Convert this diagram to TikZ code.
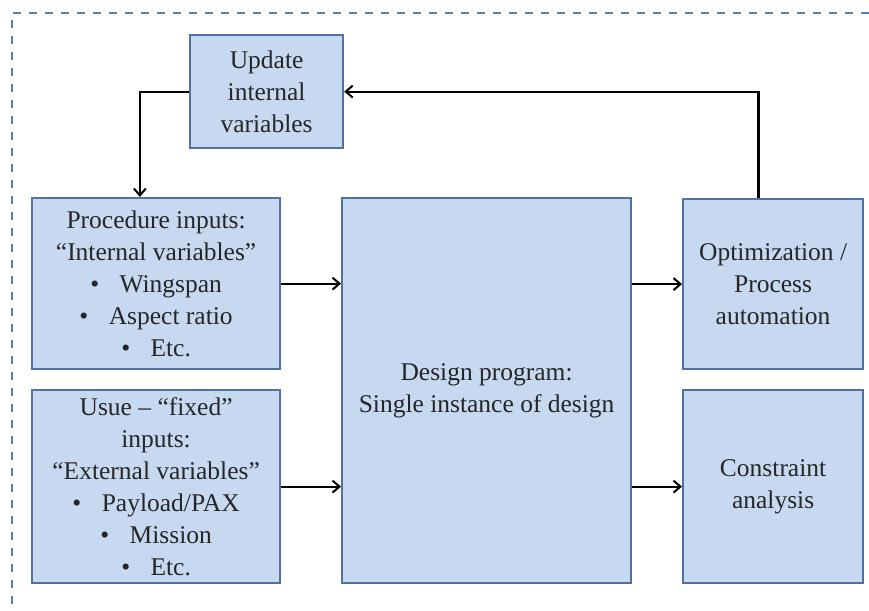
\documentclass[tikz,border=0pt]{standalone}
\usepackage{fontspec}
\setmainfont{Liberation Serif}
\usetikzlibrary{arrows.meta,calc}
\definecolor{boxfill}{HTML}{C6D9F1}
\definecolor{boxline}{HTML}{4F72A3}
\definecolor{dashcol}{HTML}{5B7CA8}
\begin{document}
\begin{tikzpicture}[x=1pt,y=-1pt,
  box/.style={draw=boxline, fill=boxfill, line width=2.2pt, inner sep=0pt, align=center,
    anchor=north west, font=\rmfamily\fontsize{25.5}{32}\selectfont, text=black!85},
  arr/.style={draw=black, line width=2.2pt, -{Straight Barb[length=7pt,width=12pt,line width=2pt]}}]
\path[use as bounding box] (0,0) rectangle (869,610);
\clip (0,0) rectangle (869,610);
\draw[dashcol, line width=2.2pt, dash pattern=on 8pt off 8pt] (12,620) -- (12,13) -- (880,13);
\node[box, minimum width=153pt, minimum height=113pt] (up) at (189,34) {Update\\internal\\variables};
\node[box, minimum width=248pt, minimum height=171pt] (proc) at (31,197)
  {Procedure inputs:\\``Internal variables''\\\textbullet\hspace{0.8em}Wingspan\\\textbullet\hspace{0.8em}Aspect ratio\\\textbullet\hspace{0.8em}Etc.};
\node[box, minimum width=248pt, minimum height=193pt] (usue) at (31,389)
  {Usue -- ``fixed''\\inputs:\\``External variables''\\\textbullet\hspace{0.8em}Payload/PAX\\\textbullet\hspace{0.8em}Mission\\\textbullet\hspace{0.8em}Etc.};
\node[box, minimum width=289pt, minimum height=385pt] (design) at (341,197)
  {Design program:\\Single instance of design};
\node[box, minimum width=180pt, minimum height=170pt] (opt) at (682,198)
  {Optimization /\\Process\\automation};
\node[box, minimum width=180pt, minimum height=193pt] (cons) at (682,389)
  {Constraint\\analysis};
\draw[arr] (up.west) -| ($(proc.north west)!0.435!(proc.north east)$);
\draw[arr] ($(opt.north west)!0.42!(opt.north east)$) |- (up.east);
\draw[arr] (proc.east) -- (design.west |- proc.east);
\draw[arr] (usue.east) -- (design.west |- usue.east);
\draw[arr] (design.east |- opt.west) -- (opt.west);
\draw[arr] (design.east |- cons.west) -- (cons.west);
\end{tikzpicture}
\end{document}
